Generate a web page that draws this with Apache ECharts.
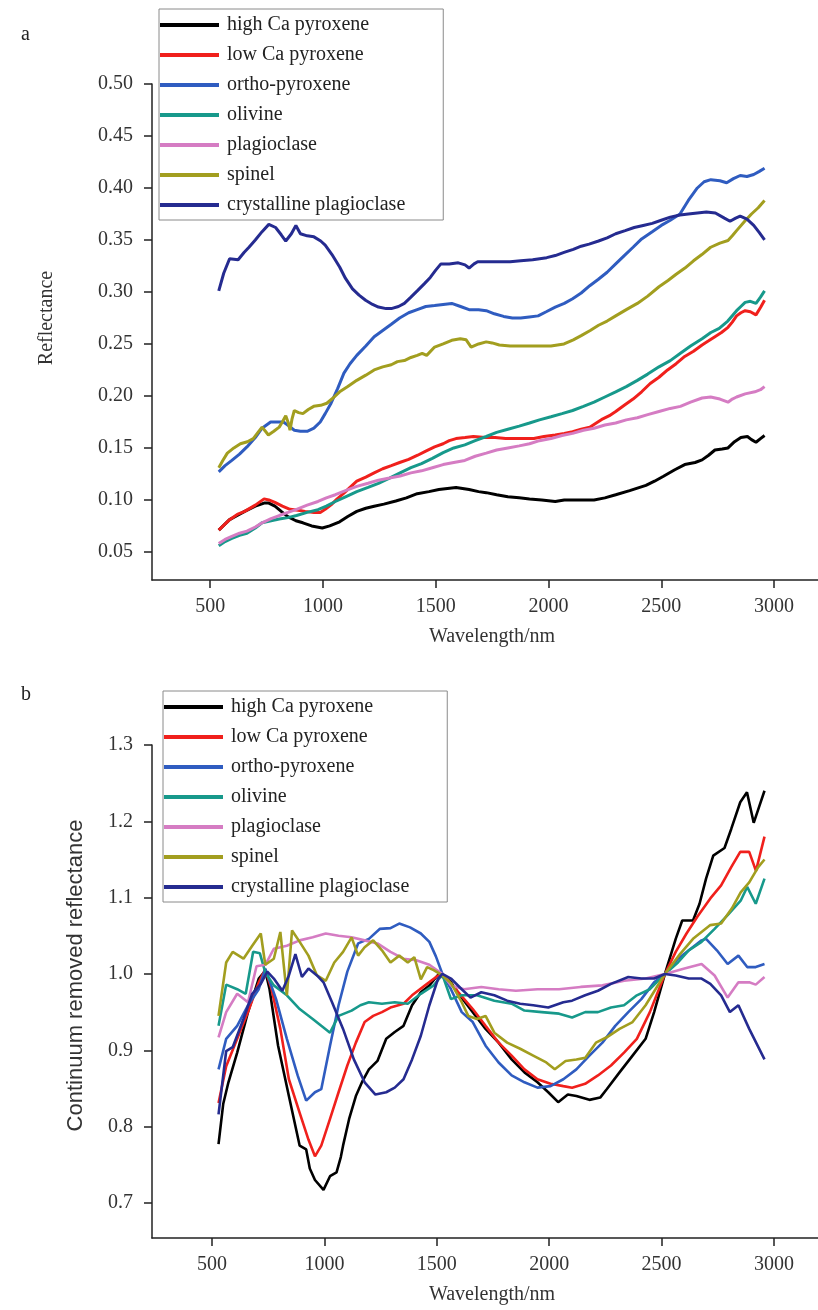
<!DOCTYPE html>
<html>
<head>
<meta charset="utf-8">
<script src="https://cdn.jsdelivr.net/npm/echarts@6/dist/echarts.min.js"></script>
<style>
  html, body { margin: 0; padding: 0; background: #fff; }
  #chart { width: 818px; height: 1310px; }
</style>
</head>
<body>
<div id="chart"></div>
<script>
// Mineral names (legend order)
const minerals = ['high Ca pyroxene', 'low Ca pyroxene', 'ortho-pyroxene', 'olivine',
  'plagioclase', 'spinel', 'crystalline plagioclase'];
const mineralColors = ['#000000', '#f0201c', '#2f5cc0', '#17998b', '#d57cc3', '#a29e1f', '#252b90'];

// Tick values
const xTicks = [500, 1000, 1500, 2000, 2500, 3000];
const yTicksA = [0.05, 0.10, 0.15, 0.20, 0.25, 0.30, 0.35, 0.40, 0.45, 0.50];
const yTicksB = [0.7, 0.8, 0.9, 1.0, 1.1, 1.2, 1.3];

// ---- (a) Reflectance spectra: [wavelength nm, reflectance] ----
const highCaA = [[538,0.071],[586,0.081],[620,0.085],[653,0.089],[700,0.094],[739,0.097],[760,0.097],[787,0.094],[815,0.089],[844,0.084],[880,0.080],[911,0.078],[950,0.075],[997,0.073],[1030,0.075],[1074,0.079],[1110,0.084],[1150,0.089],[1190,0.092],[1227,0.094],[1270,0.096],[1323,0.099],[1370,0.102],[1418,0.106],[1470,0.108],[1514,0.110],[1590,0.112],[1648,0.110],[1690,0.108],[1724,0.107],[1770,0.105],[1820,0.103],[1870,0.102],[1916,0.101],[1970,0.100],[2030,0.0985],[2070,0.100],[2107,0.100],[2160,0.100],[2202,0.100],[2250,0.102],[2298,0.105],[2360,0.109],[2432,0.114],[2470,0.118],[2508,0.1225],[2560,0.129],[2604,0.134],[2650,0.136],[2681,0.1385],[2710,0.143],[2738,0.148],[2770,0.149],[2796,0.150],[2825,0.156],[2853,0.160],[2882,0.161],[2900,0.158],[2920,0.1555],[2940,0.159],[2958,0.162]];
const lowCaA = [[538,0.071],[586,0.081],[620,0.086],[653,0.089],[700,0.095],[739,0.101],[760,0.100],[787,0.0976],[820,0.094],[854,0.091],[890,0.090],[921,0.089],[960,0.088],[988,0.088],[1010,0.091],[1036,0.0953],[1063,0.101],[1093,0.1065],[1120,0.112],[1150,0.118],[1190,0.122],[1227,0.126],[1265,0.130],[1303,0.133],[1340,0.136],[1380,0.139],[1420,0.143],[1456,0.147],[1495,0.151],[1533,0.154],[1560,0.157],[1590,0.159],[1630,0.160],[1667,0.161],[1720,0.160],[1763,0.160],[1810,0.159],[1858,0.159],[1900,0.159],[1935,0.159],[1980,0.161],[2030,0.1625],[2070,0.164],[2107,0.1657],[2145,0.168],[2183,0.170],[2212,0.174],[2241,0.178],[2270,0.181],[2298,0.185],[2336,0.191],[2375,0.197],[2413,0.204],[2451,0.212],[2490,0.218],[2528,0.225],[2566,0.231],[2604,0.238],[2643,0.243],[2681,0.249],[2710,0.253],[2738,0.257],[2767,0.261],[2796,0.266],[2815,0.271],[2834,0.277],[2853,0.280],[2872,0.282],[2895,0.281],[2920,0.278],[2940,0.285],[2958,0.292]];
const orthoA = [[538,0.127],[566,0.133],[596,0.138],[630,0.144],[663,0.151],[700,0.160],[730,0.169],[768,0.175],[800,0.175],[825,0.175],[850,0.171],[873,0.167],[900,0.166],[930,0.166],[960,0.169],[988,0.175],[1010,0.183],[1036,0.193],[1065,0.207],[1093,0.222],[1120,0.231],[1150,0.239],[1190,0.248],[1227,0.257],[1265,0.263],[1303,0.269],[1340,0.275],[1380,0.280],[1418,0.283],[1456,0.286],[1495,0.287],[1533,0.288],[1571,0.289],[1610,0.286],[1648,0.283],[1690,0.283],[1724,0.282],[1760,0.279],[1801,0.2765],[1840,0.275],[1877,0.275],[1915,0.276],[1954,0.277],[1990,0.281],[2030,0.2855],[2070,0.289],[2107,0.2935],[2145,0.299],[2183,0.306],[2220,0.312],[2260,0.319],[2298,0.327],[2336,0.335],[2375,0.343],[2413,0.351],[2460,0.358],[2500,0.364],[2540,0.369],[2583,0.375],[2620,0.388],[2660,0.400],[2690,0.406],[2720,0.408],[2760,0.407],[2790,0.405],[2820,0.409],[2850,0.412],[2880,0.411],[2910,0.413],[2935,0.416],[2958,0.419]];
const olivineA = [[538,0.056],[566,0.060],[596,0.063],[630,0.066],[663,0.068],[700,0.073],[730,0.078],[770,0.080],[806,0.0816],[845,0.083],[883,0.085],[930,0.088],[978,0.0906],[1015,0.094],[1055,0.0985],[1100,0.103],[1150,0.108],[1200,0.112],[1246,0.116],[1295,0.121],[1342,0.126],[1390,0.131],[1437,0.135],[1485,0.140],[1533,0.1455],[1580,0.150],[1629,0.153],[1675,0.157],[1724,0.161],[1770,0.165],[1820,0.168],[1870,0.171],[1916,0.174],[1960,0.177],[2011,0.180],[2060,0.183],[2107,0.186],[2155,0.190],[2202,0.194],[2250,0.199],[2298,0.204],[2345,0.209],[2394,0.215],[2440,0.221],[2490,0.228],[2540,0.234],[2585,0.241],[2630,0.248],[2681,0.255],[2720,0.261],[2757,0.265],[2795,0.272],[2834,0.282],[2853,0.286],[2872,0.290],[2895,0.291],[2920,0.289],[2940,0.295],[2958,0.301]];
const plagA = [[538,0.058],[566,0.062],[596,0.065],[630,0.068],[663,0.070],[700,0.074],[730,0.078],[770,0.082],[806,0.085],[845,0.088],[883,0.091],[930,0.095],[978,0.0985],[1015,0.102],[1055,0.105],[1100,0.109],[1150,0.113],[1200,0.116],[1246,0.119],[1295,0.121],[1342,0.123],[1390,0.126],[1437,0.128],[1485,0.131],[1533,0.134],[1580,0.136],[1629,0.138],[1675,0.142],[1724,0.145],[1770,0.148],[1820,0.150],[1870,0.152],[1916,0.154],[1960,0.157],[2011,0.159],[2060,0.162],[2107,0.164],[2155,0.167],[2202,0.169],[2250,0.172],[2298,0.174],[2345,0.177],[2394,0.179],[2440,0.182],[2490,0.185],[2540,0.188],[2585,0.190],[2630,0.194],[2681,0.198],[2719,0.199],[2760,0.197],[2796,0.194],[2815,0.197],[2834,0.199],[2872,0.202],[2915,0.204],[2940,0.206],[2958,0.209]];
const spinelA = [[538,0.131],[556,0.138],[576,0.145],[605,0.150],[634,0.154],[665,0.156],[691,0.159],[712,0.165],[730,0.170],[745,0.166],[758,0.1625],[782,0.166],[806,0.170],[820,0.175],[835,0.181],[845,0.175],[854,0.167],[863,0.178],[873,0.186],[892,0.184],[911,0.183],[935,0.187],[959,0.190],[990,0.191],[1017,0.193],[1045,0.198],[1074,0.204],[1110,0.209],[1150,0.215],[1190,0.220],[1227,0.225],[1265,0.228],[1303,0.230],[1330,0.233],[1361,0.234],[1390,0.237],[1418,0.239],[1440,0.241],[1460,0.239],[1495,0.247],[1533,0.250],[1571,0.2535],[1609,0.255],[1635,0.254],[1657,0.247],[1690,0.250],[1724,0.252],[1750,0.251],[1782,0.249],[1830,0.248],[1877,0.248],[1940,0.248],[2011,0.248],[2040,0.249],[2069,0.250],[2110,0.254],[2145,0.258],[2185,0.263],[2222,0.268],[2260,0.272],[2298,0.277],[2345,0.283],[2394,0.289],[2440,0.296],[2490,0.305],[2530,0.311],[2566,0.317],[2605,0.323],[2643,0.330],[2680,0.336],[2719,0.343],[2760,0.347],[2796,0.3495],[2815,0.354],[2834,0.359],[2870,0.368],[2900,0.375],[2930,0.381],[2958,0.388]];
const crystA = [[538,0.301],[560,0.318],[586,0.332],[624,0.331],[650,0.338],[672,0.343],[700,0.350],[730,0.358],[760,0.365],[790,0.362],[815,0.355],[835,0.349],[860,0.356],[880,0.364],[900,0.356],[930,0.354],[960,0.353],[990,0.349],[1010,0.345],[1040,0.336],[1074,0.324],[1100,0.313],[1131,0.303],[1160,0.297],[1189,0.292],[1220,0.288],[1246,0.2855],[1280,0.284],[1303,0.284],[1335,0.286],[1361,0.289],[1390,0.295],[1418,0.301],[1450,0.308],[1476,0.314],[1500,0.321],[1523,0.327],[1560,0.327],[1600,0.328],[1630,0.326],[1648,0.323],[1670,0.327],[1686,0.329],[1730,0.329],[1782,0.329],[1830,0.329],[1877,0.330],[1930,0.331],[1992,0.333],[2030,0.335],[2069,0.338],[2110,0.341],[2145,0.344],[2180,0.346],[2222,0.349],[2260,0.352],[2298,0.356],[2340,0.359],[2380,0.362],[2420,0.364],[2460,0.366],[2500,0.369],[2540,0.372],[2583,0.374],[2620,0.375],[2660,0.376],[2700,0.377],[2740,0.376],[2780,0.371],[2805,0.368],[2830,0.371],[2850,0.373],[2880,0.370],[2910,0.364],[2935,0.357],[2958,0.350]];

// ---- (b) Continuum removed spectra: [wavelength nm, value] ----
const highCaB = [[529,0.777],[550,0.830],[573,0.858],[612,0.897],[660,0.950],[708,0.994],[737,1.004],[756,0.980],[794,0.906],[842,0.840],[890,0.775],[919,0.770],[935,0.745],[958,0.730],[996,0.717],[1025,0.735],[1054,0.740],[1073,0.760],[1083,0.775],[1110,0.810],[1140,0.840],[1170,0.860],[1198,0.875],[1236,0.886],[1275,0.915],[1313,0.924],[1352,0.932],[1390,0.959],[1429,0.976],[1467,0.985],[1506,0.999],[1525,0.999],[1563,0.989],[1602,0.972],[1660,0.950],[1717,0.928],[1775,0.910],[1833,0.888],[1890,0.871],[1948,0.858],[1996,0.845],[2040,0.832],[2083,0.842],[2121,0.840],[2179,0.835],[2227,0.838],[2256,0.849],[2313,0.871],[2371,0.893],[2429,0.915],[2467,0.950],[2515,1.000],[2563,1.046],[2592,1.070],[2640,1.070],[2669,1.092],[2698,1.125],[2730,1.155],[2780,1.165],[2810,1.190],[2850,1.225],[2880,1.238],[2910,1.198],[2935,1.220],[2958,1.240]];
const lowCaB = [[529,0.831],[563,0.879],[612,0.915],[660,0.950],[708,0.989],[737,1.006],[765,0.980],[804,0.928],[842,0.862],[890,0.818],[929,0.783],[958,0.761],[986,0.775],[1025,0.810],[1063,0.845],[1102,0.880],[1140,0.910],[1179,0.937],[1217,0.945],[1256,0.950],[1294,0.956],[1352,0.961],[1390,0.972],[1448,0.985],[1506,0.998],[1544,0.994],[1602,0.974],[1660,0.954],[1717,0.932],[1775,0.910],[1833,0.893],[1890,0.875],[1948,0.862],[2006,0.856],[2063,0.853],[2102,0.851],[2160,0.856],[2217,0.867],[2275,0.880],[2333,0.897],[2390,0.915],[2448,0.950],[2515,1.000],[2563,1.029],[2611,1.053],[2659,1.075],[2717,1.099],[2765,1.116],[2810,1.140],[2850,1.160],[2890,1.160],[2920,1.135],[2958,1.180]];
const orthoB = [[529,0.875],[563,0.915],[612,0.932],[660,0.959],[708,0.980],[737,1.007],[785,0.967],[833,0.915],[881,0.867],[919,0.834],[958,0.845],[986,0.849],[1025,0.906],[1063,0.959],[1102,1.003],[1150,1.040],[1198,1.046],[1246,1.059],[1294,1.060],[1333,1.066],[1381,1.061],[1429,1.053],[1467,1.042],[1496,1.023],[1525,1.000],[1563,0.980],[1611,0.950],[1660,0.937],[1717,0.906],[1775,0.884],[1833,0.867],[1890,0.858],[1948,0.851],[2006,0.853],[2063,0.862],[2121,0.875],[2179,0.893],[2237,0.910],[2294,0.932],[2352,0.950],[2410,0.967],[2467,0.989],[2515,1.000],[2573,1.020],[2630,1.033],[2678,1.044],[2698,1.046],[2746,1.031],[2794,1.013],[2842,1.024],[2881,1.009],[2919,1.009],[2958,1.013]];
const olivineB = [[529,0.932],[563,0.986],[612,0.980],[650,0.974],[683,1.029],[713,1.027],[737,1.002],[775,0.985],[833,0.972],[890,0.954],[948,0.941],[986,0.932],[1025,0.923],[1063,0.945],[1121,0.952],[1160,0.959],[1198,0.963],[1256,0.961],[1313,0.963],[1371,0.961],[1429,0.974],[1486,0.985],[1525,0.999],[1563,0.967],[1611,0.972],[1679,0.972],[1756,0.965],[1833,0.961],[1890,0.952],[1967,0.950],[2044,0.948],[2102,0.943],[2160,0.950],[2217,0.950],[2275,0.956],[2333,0.959],[2390,0.972],[2448,0.980],[2515,1.000],[2573,1.015],[2621,1.031],[2678,1.042],[2736,1.059],[2794,1.077],[2852,1.096],[2881,1.114],[2919,1.092],[2958,1.125]];
const plagB = [[529,0.917],[563,0.950],[612,0.974],[660,0.963],[698,1.010],[737,1.012],[775,1.033],[833,1.037],[890,1.044],[948,1.048],[1006,1.053],[1063,1.050],[1121,1.048],[1179,1.044],[1236,1.040],[1294,1.029],[1352,1.020],[1409,1.018],[1467,1.012],[1525,1.000],[1563,0.985],[1621,0.980],[1698,0.983],[1775,0.980],[1852,0.978],[1948,0.980],[2044,0.980],[2140,0.983],[2237,0.985],[2333,0.991],[2429,0.994],[2515,1.000],[2602,1.007],[2678,1.013],[2736,0.998],[2794,0.969],[2842,0.989],[2890,0.989],[2919,0.986],[2958,0.996]];
const spinelB = [[529,0.945],[563,1.015],[592,1.029],[640,1.020],[679,1.037],[717,1.053],[737,1.012],[775,1.020],[804,1.055],[833,0.972],[856,1.057],[890,1.042],[929,1.024],[967,0.998],[1006,0.991],[1044,1.015],[1083,1.029],[1121,1.048],[1150,1.024],[1179,1.035],[1217,1.044],[1256,1.031],[1294,1.015],[1333,1.024],[1371,1.015],[1400,1.022],[1429,0.993],[1457,1.009],[1486,1.005],[1525,0.998],[1563,0.988],[1611,0.963],[1640,0.945],[1679,0.941],[1717,0.945],[1756,0.923],[1813,0.910],[1871,0.902],[1929,0.893],[1987,0.884],[2025,0.875],[2073,0.886],[2121,0.888],[2160,0.890],[2208,0.910],[2256,0.917],[2313,0.928],[2371,0.937],[2429,0.959],[2515,1.000],[2582,1.026],[2640,1.046],[2717,1.064],[2765,1.066],[2813,1.086],[2852,1.107],[2890,1.120],[2930,1.140],[2958,1.150]];
const crystB = [[529,0.816],[563,0.899],[592,0.904],[640,0.941],[679,0.974],[717,0.987],[746,1.003],[775,0.994],[813,0.978],[842,0.998],[871,1.026],[900,0.996],[929,1.007],[967,0.998],[996,0.989],[1034,0.963],[1083,0.928],[1131,0.888],[1179,0.858],[1227,0.842],[1275,0.845],[1313,0.851],[1352,0.862],[1390,0.888],[1429,0.919],[1467,0.959],[1506,0.994],[1525,1.000],[1563,0.994],[1611,0.980],[1650,0.969],[1698,0.976],[1756,0.972],[1813,0.965],[1871,0.961],[1929,0.959],[1996,0.956],[2063,0.963],[2102,0.965],[2160,0.972],[2217,0.978],[2275,0.987],[2352,0.996],[2410,0.994],[2467,0.994],[2515,1.000],[2563,0.998],[2621,0.994],[2678,0.994],[2717,0.987],[2765,0.972],[2804,0.950],[2842,0.959],[2890,0.928],[2958,0.888]];

const spectraA = [highCaA, lowCaA, orthoA, olivineA, plagA, spinelA, crystA];
const spectraB = [highCaB, lowCaB, orthoB, olivineB, plagB, spinelB, crystB];

const serif = "'Liberation Serif', 'DejaVu Serif', serif";
const sans = "'Liberation Sans', Arial, sans-serif";
const axisColor = '#222';
const labelColor = '#333';

function xAxisCfg(gridIndex, min, max) {
  return {
    type: 'value', gridIndex, min, max,
    name: 'Wavelength/nm', nameLocation: 'middle', nameGap: 47,
    nameTextStyle: { fontFamily: serif, fontSize: 20, color: labelColor, padding: [0, 0, 0, 14] },
    axisLine: { lineStyle: { color: axisColor, width: 1.5 } },
    axisTick: { show: true, length: 8, lineStyle: { color: axisColor, width: 1.5 }, customValues: xTicks },
    axisLabel: { fontFamily: serif, fontSize: 20, color: labelColor, margin: 17,
      customValues: xTicks, formatter: v => String(v) },
    splitLine: { show: false }
  };
}
function yAxisCfg(gridIndex, min, max, ticks, digits, name, nameFont, nameSize, nameGap, shift) {
  return {
    type: 'value', gridIndex, min, max,
    name, nameLocation: 'middle', nameGap, nameRotate: 90,
    nameTextStyle: { fontFamily: nameFont, fontSize: nameSize, color: labelColor, padding: [0, 0, 0, shift] },
    axisLine: { show: true, lineStyle: { color: axisColor, width: 1.5 } },
    axisTick: { show: true, length: 8, lineStyle: { color: axisColor, width: 1.5 }, customValues: ticks },
    axisLabel: { fontFamily: serif, fontSize: 20, color: labelColor, margin: 19,
      customValues: ticks, formatter: v => v.toFixed(digits) },
    splitLine: { show: false }
  };
}
function legendCfg(left, top) {
  return {
    data: minerals, orient: 'vertical', left, top,
    icon: 'rect', itemWidth: 59, itemHeight: 4, itemGap: 10,
    padding: [6, 38, 5, 1],
    borderColor: '#8a8a8a', borderWidth: 1, backgroundColor: '#fff',
    textStyle: { fontFamily: serif, fontSize: 20, color: '#222', padding: [0, 0, 0, 3] },
    selectedMode: false
  };
}

const series = [];
minerals.forEach((name, i) => {
  series.push({ name, type: 'line', xAxisIndex: 0, yAxisIndex: 0, data: spectraA[i],
    showSymbol: false, symbol: 'none', lineStyle: { width: 3, color: mineralColors[i] },
    itemStyle: { color: mineralColors[i] }, animation: false });
});
minerals.forEach((name, i) => {
  series.push({ name, type: 'line', xAxisIndex: 1, yAxisIndex: 1, data: spectraB[i],
    showSymbol: false, symbol: 'none', lineStyle: { width: 2.6, color: mineralColors[i] },
    itemStyle: { color: mineralColors[i] }, animation: false });
});

const chart = echarts.init(document.getElementById('chart'), null, { renderer: 'canvas' });
chart.setOption({
  backgroundColor: '#fff',
  animation: false,
  title: [
    { text: 'a', left: 16, top: 20, textStyle: { fontFamily: serif, fontSize: 20, fontWeight: 'normal', color: '#222' } },
    { text: 'b', left: 16, top: 680, textStyle: { fontFamily: serif, fontSize: 20, fontWeight: 'normal', color: '#222' } }
  ],
  grid: [
    { left: 152, top: 84, right: 0, height: 496 },
    { left: 152, top: 745, right: 0, height: 493 }
  ],
  xAxis: [xAxisCfg(0, 242, 3195), xAxisCfg(1, 233, 3196)],
  yAxis: [
    yAxisCfg(0, 0.023, 0.5, yTicksA, 2, 'Reflectance', serif, 20, 95, 28),
    yAxisCfg(1, 0.654, 1.3, yTicksB, 1, 'Continuum removed reflectance', sans, 22, 65, 32)
  ],
  legend: [legendCfg(159, 9), legendCfg(163, 691)],
  series
});
</script>
</body>
</html>
